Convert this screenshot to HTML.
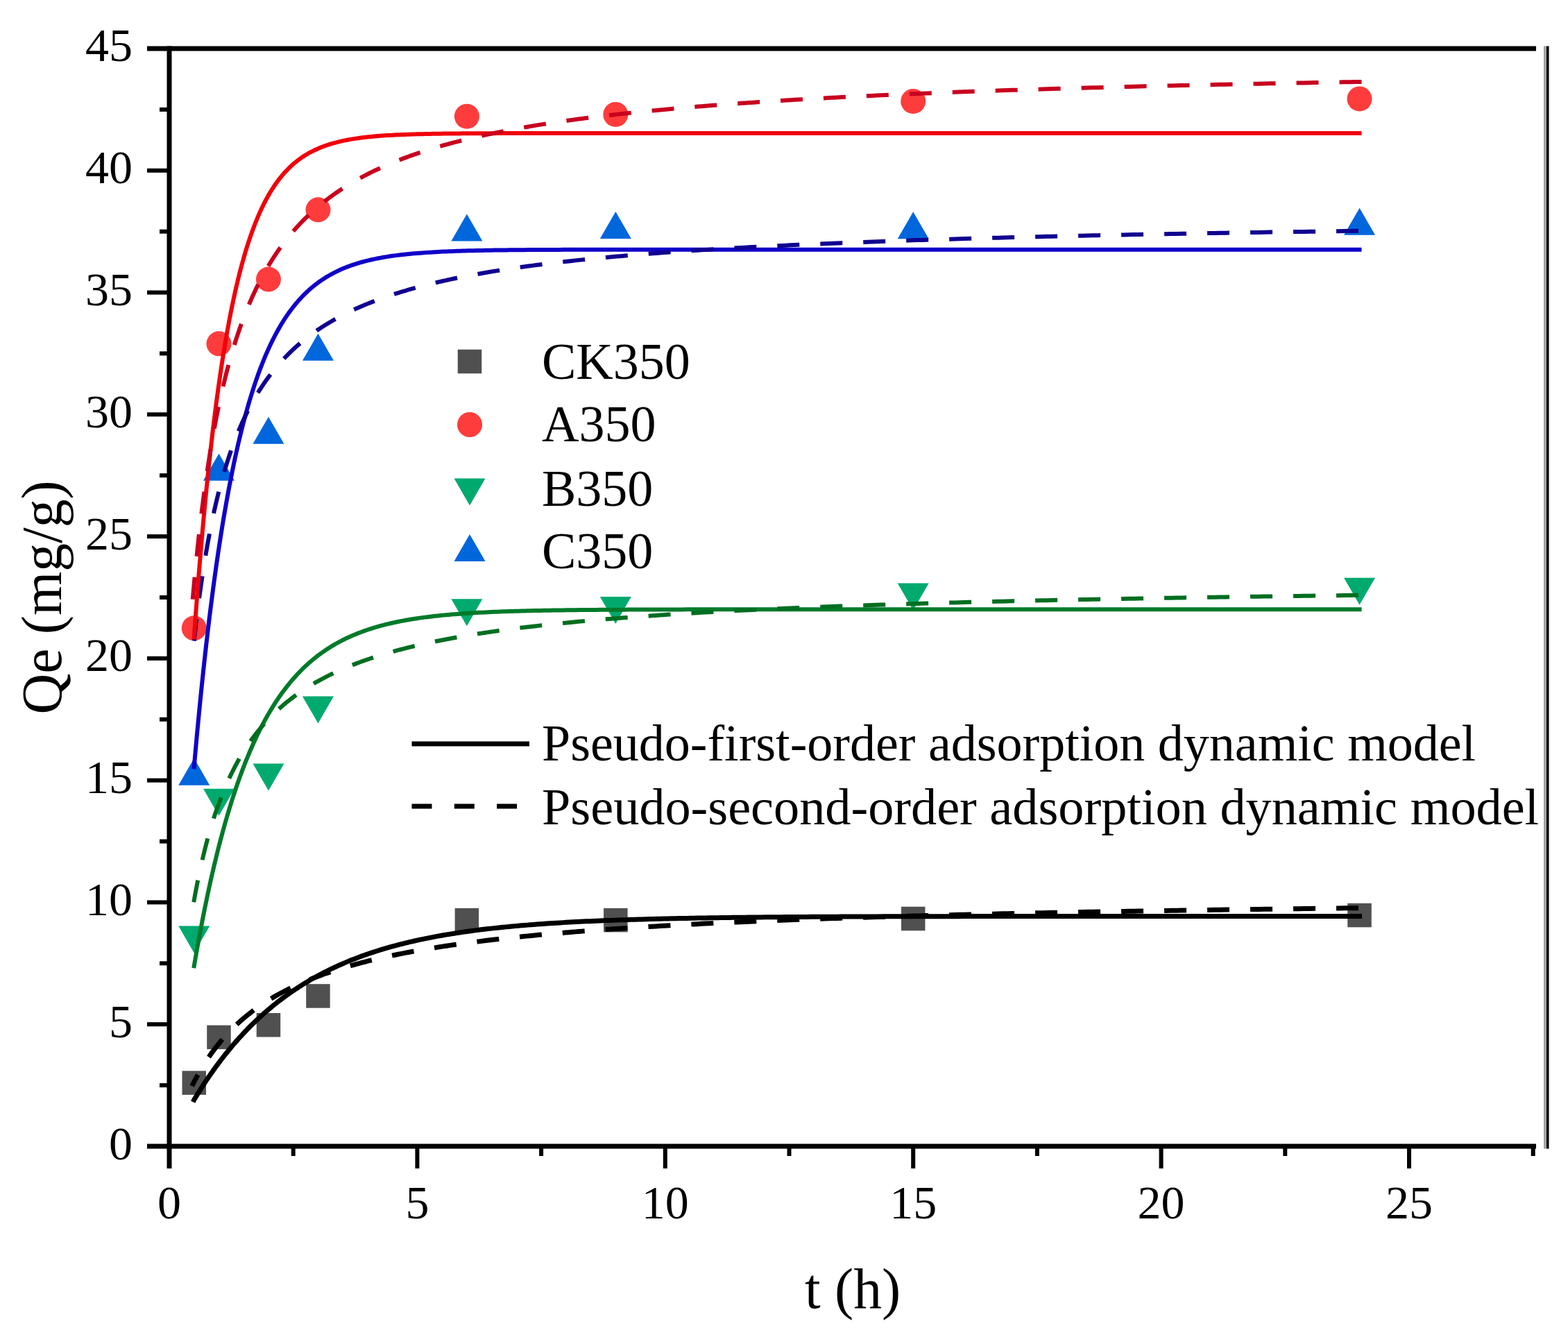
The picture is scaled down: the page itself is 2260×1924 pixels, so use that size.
<!DOCTYPE html><html><head><meta charset="utf-8"><title>Adsorption kinetics</title>
<style>html,body{margin:0;padding:0;background:#fff;}svg{display:block;}text{font-family:"Liberation Serif","Times New Roman",serif;fill:#000;}</style></head><body>
<svg width="2260" height="1924" viewBox="0 0 2260 1924">
<rect width="2260" height="1924" fill="#fff"/>
<rect x="262.49" y="1543.34" width="34.50" height="34.50" fill="#505050"/>
<rect x="298.23" y="1477.60" width="34.50" height="34.50" fill="#505050"/>
<rect x="369.71" y="1460.02" width="34.50" height="34.50" fill="#505050"/>
<rect x="441.19" y="1418.19" width="34.50" height="34.50" fill="#505050"/>
<rect x="655.63" y="1308.85" width="34.50" height="34.50" fill="#505050"/>
<rect x="870.07" y="1308.85" width="34.50" height="34.50" fill="#505050"/>
<rect x="1298.95" y="1306.74" width="34.50" height="34.50" fill="#505050"/>
<rect x="1942.27" y="1301.82" width="34.50" height="34.50" fill="#505050"/>
<circle cx="279.74" cy="905.29" r="18.00" fill="#ff3c3c"/>
<circle cx="315.48" cy="495.37" r="18.00" fill="#ff3c3c"/>
<circle cx="386.96" cy="402.56" r="18.00" fill="#ff3c3c"/>
<circle cx="458.44" cy="302.36" r="18.00" fill="#ff3c3c"/>
<circle cx="672.88" cy="167.71" r="18.00" fill="#ff3c3c"/>
<circle cx="887.32" cy="164.90" r="18.00" fill="#ff3c3c"/>
<circle cx="1316.20" cy="145.92" r="18.00" fill="#ff3c3c"/>
<circle cx="1959.52" cy="142.40" r="18.00" fill="#ff3c3c"/>
<path d="M257.24,1334.38 L302.24,1334.38 L279.74,1373.38 Z" fill="#00aa6e"/>
<path d="M292.98,1136.80 L337.98,1136.80 L315.48,1175.80 Z" fill="#00aa6e"/>
<path d="M364.46,1100.59 L409.46,1100.59 L386.96,1139.59 Z" fill="#00aa6e"/>
<path d="M435.94,1003.56 L480.94,1003.56 L458.44,1042.56 Z" fill="#00aa6e"/>
<path d="M650.38,863.29 L695.38,863.29 L672.88,902.29 Z" fill="#00aa6e"/>
<path d="M864.82,860.12 L909.82,860.12 L887.32,899.12 Z" fill="#00aa6e"/>
<path d="M1293.70,840.44 L1338.70,840.44 L1316.20,879.44 Z" fill="#00aa6e"/>
<path d="M1937.02,832.70 L1982.02,832.70 L1959.52,871.70 Z" fill="#00aa6e"/>
<path d="M279.74,1092.86 L302.24,1131.86 L257.24,1131.86 Z" fill="#0066dc"/>
<path d="M315.48,653.76 L337.98,692.76 L292.98,692.76 Z" fill="#0066dc"/>
<path d="M386.96,600.67 L409.46,639.67 L364.46,639.67 Z" fill="#0066dc"/>
<path d="M458.44,480.79 L480.94,519.79 L435.94,519.79 Z" fill="#0066dc"/>
<path d="M672.88,308.53 L695.38,347.53 L650.38,347.53 Z" fill="#0066dc"/>
<path d="M887.32,305.01 L909.82,344.01 L864.82,344.01 Z" fill="#0066dc"/>
<path d="M1316.20,305.36 L1338.70,344.36 L1293.70,344.36 Z" fill="#0066dc"/>
<path d="M1959.52,299.74 L1982.02,338.74 L1937.02,338.74 Z" fill="#0066dc"/>
<path d="M279.74,1585.05 L279.75,1585.03 L279.78,1584.98 L279.83,1584.89 L279.91,1584.77 L280.00,1584.61 L280.12,1584.42 L280.25,1584.19 L280.41,1583.93 L280.59,1583.63 L280.79,1583.30 L281.01,1582.94 L281.25,1582.54 L281.51,1582.10 L281.80,1581.64 L282.10,1581.13 L282.43,1580.60 L282.77,1580.03 L283.14,1579.43 L283.53,1578.80 L283.94,1578.13 L284.37,1577.43 L284.82,1576.70 L285.29,1575.94 L285.79,1575.14 L286.30,1574.32 L286.84,1573.46 L287.39,1572.57 L287.97,1571.66 L288.57,1570.71 L289.19,1569.73 L289.83,1568.73 L290.49,1567.69 L291.17,1566.63 L291.88,1565.54 L292.60,1564.42 L293.35,1563.28 L294.11,1562.10 L294.90,1560.91 L295.71,1559.68 L296.54,1558.43 L297.39,1557.16 L298.26,1555.86 L299.15,1554.54 L300.07,1553.19 L301.00,1551.83 L301.96,1550.43 L302.93,1549.02 L303.93,1547.59 L304.95,1546.13 L305.99,1544.66 L307.05,1543.16 L308.13,1541.65 L309.23,1540.11 L310.35,1538.56 L311.50,1536.99 L312.66,1535.40 L313.85,1533.80 L315.06,1532.18 L316.29,1530.55 L317.54,1528.90 L318.81,1527.23 L320.10,1525.55 L321.41,1523.86 L322.74,1522.16 L324.10,1520.44 L325.47,1518.71 L326.87,1516.97 L328.29,1515.22 L329.72,1513.46 L331.18,1511.69 L332.66,1509.91 L334.16,1508.12 L335.69,1506.33 L337.23,1504.53 L338.79,1502.72 L340.38,1500.90 L341.99,1499.08 L343.61,1497.26 L345.26,1495.43 L346.93,1493.59 L348.62,1491.76 L350.33,1489.92 L352.07,1488.07 L353.82,1486.23 L355.59,1484.38 L357.39,1482.54 L359.20,1480.69 L361.04,1478.84 L362.90,1476.99 L364.78,1475.15 L366.68,1473.30 L368.60,1471.46 L370.54,1469.62 L372.51,1467.78 L374.49,1465.95 L376.50,1464.12 L378.52,1462.29 L380.57,1460.47 L382.64,1458.65 L384.73,1456.84 L386.84,1455.04 L388.97,1453.24 L391.12,1451.45 L393.29,1449.66 L395.49,1447.88 L397.70,1446.12 L399.94,1444.35 L402.20,1442.60 L404.47,1440.86 L406.77,1439.12 L409.09,1437.40 L411.43,1435.68 L413.80,1433.97 L416.18,1432.28 L418.58,1430.59 L421.01,1428.92 L423.46,1427.26 L425.92,1425.61 L428.41,1423.97 L430.92,1422.34 L433.45,1420.73 L436.00,1419.12 L438.57,1417.53 L441.17,1415.96 L443.78,1414.39 L446.42,1412.84 L449.07,1411.31 L451.75,1409.78 L454.45,1408.27 L457.17,1406.78 L459.91,1405.30 L462.67,1403.83 L465.45,1402.38 L468.25,1400.94 L471.08,1399.52 L473.92,1398.11 L476.79,1396.72 L479.68,1395.34 L482.58,1393.98 L485.51,1392.63 L488.46,1391.30 L491.43,1389.98 L494.43,1388.68 L497.44,1387.39 L500.47,1386.12 L503.53,1384.86 L506.60,1383.62 L509.70,1382.40 L512.82,1381.19 L515.96,1380.00 L519.12,1378.82 L522.30,1377.66 L525.50,1376.52 L528.73,1375.39 L531.97,1374.27 L535.23,1373.17 L538.52,1372.09 L541.83,1371.02 L545.16,1369.97 L548.50,1368.93 L551.87,1367.91 L555.27,1366.90 L558.68,1365.91 L562.11,1364.94 L565.57,1363.98 L569.04,1363.03 L572.54,1362.10 L576.05,1361.18 L579.59,1360.28 L583.15,1359.40 L586.73,1358.53 L590.33,1357.67 L593.95,1356.83 L597.60,1356.00 L601.26,1355.18 L604.95,1354.38 L608.65,1353.60 L612.38,1352.82 L616.13,1352.07 L619.90,1351.32 L623.69,1350.59 L627.50,1349.87 L631.33,1349.17 L635.18,1348.48 L639.06,1347.80 L642.95,1347.13 L646.87,1346.48 L650.80,1345.84 L654.76,1345.21 L658.74,1344.59 L662.74,1343.99 L666.76,1343.40 L670.80,1342.82 L674.87,1342.25 L678.95,1341.69 L683.06,1341.15 L687.18,1340.62 L691.33,1340.09 L695.50,1339.58 L699.68,1339.08 L703.89,1338.59 L708.13,1338.11 L712.38,1337.64 L716.65,1337.18 L720.94,1336.73 L725.26,1336.29 L729.60,1335.86 L733.95,1335.44 L738.33,1335.03 L742.73,1334.63 L747.15,1334.24 L751.59,1333.86 L756.05,1333.48 L760.54,1333.12 L765.04,1332.76 L769.56,1332.41 L774.11,1332.07 L778.68,1331.74 L783.26,1331.41 L787.87,1331.10 L792.50,1330.79 L797.15,1330.49 L801.83,1330.19 L806.52,1329.91 L811.23,1329.63 L815.97,1329.36 L820.72,1329.09 L825.50,1328.83 L830.30,1328.58 L835.12,1328.33 L839.96,1328.09 L844.82,1327.86 L849.70,1327.63 L854.60,1327.41 L859.53,1327.20 L864.47,1326.99 L869.44,1326.78 L874.42,1326.58 L879.43,1326.39 L884.46,1326.20 L889.51,1326.02 L894.58,1325.84 L899.67,1325.67 L904.79,1325.50 L909.92,1325.34 L915.07,1325.18 L920.25,1325.03 L925.45,1324.88 L930.67,1324.73 L935.90,1324.59 L941.16,1324.45 L946.44,1324.32 L951.75,1324.19 L957.07,1324.06 L962.41,1323.94 L967.78,1323.82 L973.16,1323.70 L978.57,1323.59 L984.00,1323.48 L989.45,1323.38 L994.92,1323.28 L1000.41,1323.18 L1005.92,1323.08 L1011.45,1322.99 L1017.01,1322.90 L1022.58,1322.81 L1028.18,1322.73 L1033.79,1322.65 L1039.43,1322.57 L1045.09,1322.49 L1050.77,1322.42 L1056.47,1322.34 L1062.19,1322.27 L1067.93,1322.21 L1073.70,1322.14 L1079.48,1322.08 L1085.29,1322.02 L1091.12,1321.96 L1096.96,1321.90 L1102.83,1321.84 L1108.72,1321.79 L1114.63,1321.74 L1120.56,1321.69 L1126.52,1321.64 L1132.49,1321.59 L1138.49,1321.55 L1144.50,1321.50 L1150.54,1321.46 L1156.60,1321.42 L1162.67,1321.38 L1168.77,1321.34 L1174.89,1321.31 L1181.04,1321.27 L1187.20,1321.24 L1193.38,1321.20 L1199.59,1321.17 L1205.81,1321.14 L1212.06,1321.11 L1218.33,1321.08 L1224.62,1321.06 L1230.93,1321.03 L1237.26,1321.00 L1243.61,1320.98 L1249.98,1320.95 L1256.37,1320.93 L1262.79,1320.91 L1269.22,1320.89 L1275.68,1320.87 L1282.16,1320.85 L1288.66,1320.83 L1295.18,1320.81 L1301.72,1320.79 L1308.28,1320.78 L1314.86,1320.76 L1321.47,1320.74 L1328.09,1320.73 L1334.74,1320.71 L1341.40,1320.70 L1348.09,1320.69 L1354.80,1320.67 L1361.53,1320.66 L1368.28,1320.65 L1375.05,1320.64 L1381.84,1320.63 L1388.66,1320.62 L1395.49,1320.61 L1402.35,1320.60 L1409.22,1320.59 L1416.12,1320.58 L1423.04,1320.57 L1429.98,1320.56 L1436.94,1320.55 L1443.92,1320.54 L1450.92,1320.54 L1457.95,1320.53 L1464.99,1320.52 L1472.06,1320.52 L1479.14,1320.51 L1486.25,1320.50 L1493.38,1320.50 L1500.53,1320.49 L1507.70,1320.49 L1514.89,1320.48 L1522.11,1320.48 L1529.34,1320.47 L1536.59,1320.47 L1543.87,1320.46 L1551.17,1320.46 L1558.48,1320.46 L1565.82,1320.45 L1573.18,1320.45 L1580.56,1320.45 L1587.96,1320.44 L1595.39,1320.44 L1602.83,1320.44 L1610.29,1320.43 L1617.78,1320.43 L1625.29,1320.43 L1632.81,1320.43 L1640.36,1320.42 L1647.93,1320.42 L1655.52,1320.42 L1663.13,1320.42 L1670.77,1320.41 L1678.42,1320.41 L1686.09,1320.41 L1693.79,1320.41 L1701.51,1320.41 L1709.24,1320.41 L1717.00,1320.40 L1724.78,1320.40 L1732.58,1320.40 L1740.40,1320.40 L1748.25,1320.40 L1756.11,1320.40 L1763.99,1320.40 L1771.90,1320.40 L1779.83,1320.39 L1787.77,1320.39 L1795.74,1320.39 L1803.73,1320.39 L1811.74,1320.39 L1819.77,1320.39 L1827.83,1320.39 L1835.90,1320.39 L1843.99,1320.39 L1852.11,1320.39 L1860.25,1320.39 L1868.40,1320.39 L1876.58,1320.38 L1884.78,1320.38 L1893.00,1320.38 L1901.24,1320.38 L1909.50,1320.38 L1917.79,1320.38 L1926.09,1320.38 L1934.42,1320.38 L1942.76,1320.38 L1951.13,1320.38 L1959.52,1320.38" fill="none" stroke="#000000" stroke-width="7" stroke-linejoin="round" stroke-linecap="square"/>
<path d="M1962.52,1308.57 L1954.10,1308.66 L1945.70,1308.76 L1937.33,1308.86 L1928.97,1308.96 L1920.64,1309.06 L1912.33,1309.16 L1904.03,1309.26 L1895.76,1309.36 L1887.51,1309.46 L1879.28,1309.57 L1871.08,1309.67 L1862.89,1309.77 L1854.72,1309.88 L1846.58,1309.99 L1838.46,1310.09 L1830.35,1310.20 L1822.27,1310.31 L1814.21,1310.42 L1806.17,1310.53 L1798.16,1310.64 L1790.16,1310.75 L1782.18,1310.86 L1774.23,1310.97 L1766.30,1311.09 L1758.38,1311.20 L1750.49,1311.32 L1742.62,1311.43 L1734.77,1311.55 L1726.94,1311.67 L1719.14,1311.79 L1711.35,1311.90 L1703.58,1312.02 L1695.84,1312.15 L1688.12,1312.27 L1680.42,1312.39 L1672.73,1312.51 L1665.07,1312.64 L1657.44,1312.77 L1649.82,1312.89 L1642.22,1313.02 L1634.65,1313.15 L1627.09,1313.28 L1619.56,1313.41 L1612.05,1313.54 L1604.56,1313.67 L1597.09,1313.80 L1589.64,1313.94 L1582.21,1314.07 L1574.80,1314.21 L1567.42,1314.35 L1560.05,1314.48 L1552.71,1314.62 L1545.38,1314.76 L1538.08,1314.91 L1530.80,1315.05 L1523.54,1315.19 L1516.30,1315.34 L1509.09,1315.48 L1501.89,1315.63 L1494.72,1315.78 L1487.56,1315.93 L1480.43,1316.08 L1473.32,1316.23 L1466.23,1316.38 L1459.16,1316.53 L1452.11,1316.69 L1445.08,1316.84 L1438.07,1317.00 L1431.09,1317.16 L1424.12,1317.32 L1417.18,1317.48 L1410.26,1317.64 L1403.36,1317.81 L1396.48,1317.97 L1389.62,1318.14 L1382.78,1318.31 L1375.96,1318.48 L1369.17,1318.65 L1362.39,1318.82 L1355.64,1318.99 L1348.91,1319.16 L1342.20,1319.34 L1335.50,1319.52 L1328.84,1319.70 L1322.19,1319.88 L1315.56,1320.06 L1308.95,1320.24 L1302.37,1320.42 L1295.80,1320.61 L1289.26,1320.80 L1282.74,1320.99 L1276.24,1321.18 L1269.76,1321.37 L1263.30,1321.56 L1256.86,1321.76 L1250.45,1321.95 L1244.05,1322.15 L1237.68,1322.35 L1231.32,1322.55 L1224.99,1322.76 L1218.68,1322.96 L1212.39,1323.17 L1206.12,1323.38 L1199.87,1323.59 L1193.65,1323.80 L1187.44,1324.01 L1181.26,1324.23 L1175.09,1324.45 L1168.95,1324.67 L1162.83,1324.89 L1156.73,1325.11 L1150.65,1325.34 L1144.59,1325.56 L1138.55,1325.79 L1132.54,1326.02 L1126.54,1326.26 L1120.57,1326.49 L1114.61,1326.73 L1108.68,1326.97 L1102.77,1327.21 L1096.88,1327.45 L1091.01,1327.70 L1085.17,1327.94 L1079.34,1328.19 L1073.53,1328.45 L1067.75,1328.70 L1061.99,1328.96 L1056.24,1329.21 L1050.52,1329.48 L1044.82,1329.74 L1039.14,1330.00 L1033.49,1330.27 L1027.85,1330.54 L1022.23,1330.81 L1016.64,1331.09 L1011.07,1331.37 L1005.51,1331.65 L999.98,1331.93 L994.47,1332.22 L988.98,1332.50 L983.51,1332.79 L978.07,1333.09 L972.64,1333.38 L967.24,1333.68 L961.85,1333.98 L956.49,1334.29 L951.15,1334.59 L945.83,1334.90 L940.53,1335.21 L935.25,1335.53 L929.99,1335.85 L924.75,1336.17 L919.54,1336.49 L914.34,1336.82 L909.17,1337.15 L904.02,1337.48 L898.89,1337.82 L893.78,1338.16 L888.69,1338.50 L883.62,1338.85 L878.57,1339.20 L873.55,1339.55 L868.54,1339.91 L863.56,1340.27 L858.60,1340.63 L853.66,1341.00 L848.74,1341.37 L843.84,1341.74 L838.96,1342.12 L834.10,1342.50 L829.26,1342.88 L824.45,1343.27 L819.66,1343.66 L814.88,1344.06 L810.13,1344.46 L805.40,1344.86 L800.69,1345.27 L796.00,1345.68 L791.33,1346.09 L786.69,1346.51 L782.06,1346.94 L777.46,1347.36 L772.88,1347.80 L768.31,1348.23 L763.77,1348.67 L759.25,1349.12 L754.75,1349.57 L750.28,1350.02 L745.82,1350.48 L741.38,1350.94 L736.97,1351.41 L732.57,1351.88 L728.20,1352.36 L723.85,1352.84 L719.52,1353.33 L715.21,1353.82 L710.92,1354.31 L706.66,1354.81 L702.41,1355.32 L698.19,1355.83 L693.98,1356.35 L689.80,1356.87 L685.64,1357.40 L681.50,1357.93 L677.38,1358.47 L673.28,1359.01 L669.20,1359.56 L665.14,1360.12 L661.11,1360.68 L657.09,1361.24 L653.10,1361.81 L649.13,1362.39 L645.18,1362.98 L641.25,1363.57 L637.34,1364.16 L633.45,1364.76 L629.58,1365.37 L625.74,1365.99 L621.91,1366.61 L618.11,1367.23 L614.33,1367.87 L610.57,1368.51 L606.83,1369.15 L603.11,1369.81 L599.41,1370.47 L595.73,1371.14 L592.08,1371.81 L588.44,1372.49 L584.83,1373.18 L581.23,1373.87 L577.66,1374.58 L574.11,1375.29 L570.58,1376.00 L567.07,1376.73 L563.59,1377.46 L560.12,1378.20 L556.67,1378.95 L553.25,1379.70 L549.85,1380.47 L546.46,1381.24 L543.10,1382.02 L539.76,1382.80 L536.44,1383.60 L533.15,1384.40 L529.87,1385.22 L526.61,1386.04 L523.38,1386.86 L520.17,1387.70 L516.97,1388.55 L513.80,1389.40 L510.65,1390.27 L507.52,1391.14 L504.42,1392.02 L501.33,1392.91 L498.26,1393.81 L495.22,1394.72 L492.19,1395.63 L489.19,1396.56 L486.21,1397.50 L483.25,1398.44 L480.31,1399.40 L477.39,1400.36 L474.49,1401.34 L471.62,1402.32 L468.76,1403.32 L465.93,1404.32 L463.11,1405.33 L460.32,1406.36 L457.55,1407.39 L454.80,1408.44 L452.07,1409.49 L449.36,1410.55 L446.68,1411.63 L444.01,1412.71 L441.37,1413.81 L438.74,1414.92 L436.14,1416.03 L433.56,1417.16 L431.00,1418.30 L428.46,1419.44 L425.94,1420.60 L423.45,1421.77 L420.97,1422.95 L418.51,1424.14 L416.08,1425.34 L413.67,1426.55 L411.28,1427.77 L408.91,1429.01 L406.56,1430.25 L404.23,1431.50 L401.92,1432.77 L399.63,1434.04 L397.37,1435.33 L395.12,1436.63 L392.90,1437.93 L390.70,1439.25 L388.52,1440.58 L386.36,1441.91 L384.22,1443.26 L382.10,1444.62 L380.00,1445.99 L377.93,1447.37 L375.87,1448.75 L373.84,1450.15 L371.83,1451.56 L369.84,1452.98 L367.87,1454.40 L365.92,1455.84 L363.99,1457.28 L362.08,1458.73 L360.20,1460.20 L358.33,1461.67 L356.49,1463.14 L354.67,1464.63 L352.86,1466.13 L351.08,1467.63 L349.32,1469.14 L347.58,1470.65 L345.87,1472.17 L344.17,1473.70 L342.50,1475.24 L340.84,1476.78 L339.21,1478.33 L337.60,1479.88 L336.01,1481.43 L334.44,1482.99 L332.89,1484.56 L331.36,1486.12 L329.85,1487.70 L328.37,1489.27 L326.90,1490.84 L325.46,1492.42 L324.04,1494.00 L322.64,1495.58 L321.26,1497.16 L319.90,1498.73 L318.56,1500.31 L317.24,1501.89 L315.94,1503.46 L314.67,1505.03 L313.42,1506.60 L312.18,1508.16 L310.97,1509.72 L309.78,1511.27 L308.61,1512.82 L307.46,1514.35 L306.34,1515.89 L305.23,1517.41 L304.14,1518.92 L303.08,1520.43 L302.04,1521.92 L301.02,1523.40 L300.01,1524.87 L299.03,1526.33 L298.08,1527.77 L297.14,1529.20 L296.22,1530.61 L295.33,1532.01 L294.45,1533.39 L293.60,1534.75 L292.77,1536.09 L291.95,1537.41 L291.16,1538.71 L290.39,1539.99 L289.65,1541.25 L288.92,1542.48 L288.21,1543.69 L287.53,1544.88 L286.87,1546.04 L286.22,1547.17 L285.60,1548.27 L285.00,1549.35 L284.42,1550.39 L283.86,1551.41 L283.33,1552.39 L282.81,1553.35 L282.31,1554.27 L281.84,1555.16 L281.39,1556.01 L280.95,1556.83 L280.54,1557.61 L280.15,1558.36 L279.78,1559.07 L279.44,1559.75 L279.11,1560.38 L278.81,1560.98 L278.52,1561.54 L278.26,1562.06 L278.01,1562.54 L277.79,1562.98 L277.59,1563.38 L277.41,1563.74 L277.26,1564.06 L277.12,1564.33 L277.00,1564.56 L276.91,1564.75 L276.83,1564.90 L276.78,1565.01 L276.75,1565.07 L276.74,1565.10" fill="none" stroke="#000000" stroke-width="7" stroke-dasharray="32 30" stroke-dashoffset="57.5"/>
<path d="M279.74,1392.25 L279.75,1392.19 L279.78,1392.00 L279.83,1391.70 L279.91,1391.26 L280.00,1390.71 L280.12,1390.03 L280.25,1389.23 L280.41,1388.31 L280.59,1387.27 L280.79,1386.11 L281.01,1384.83 L281.25,1383.44 L281.51,1381.92 L281.80,1380.29 L282.10,1378.54 L282.43,1376.68 L282.77,1374.71 L283.14,1372.63 L283.53,1370.43 L283.94,1368.13 L284.37,1365.73 L284.82,1363.21 L285.29,1360.60 L285.79,1357.88 L286.30,1355.07 L286.84,1352.15 L287.39,1349.15 L287.97,1346.04 L288.57,1342.85 L289.19,1339.57 L289.83,1336.20 L290.49,1332.75 L291.17,1329.21 L291.88,1325.60 L292.60,1321.90 L293.35,1318.13 L294.11,1314.29 L294.90,1310.38 L295.71,1306.40 L296.54,1302.36 L297.39,1298.25 L298.26,1294.08 L299.15,1289.86 L300.07,1285.58 L301.00,1281.24 L301.96,1276.86 L302.93,1272.43 L303.93,1267.96 L304.95,1263.44 L305.99,1258.89 L307.05,1254.30 L308.13,1249.67 L309.23,1245.01 L310.35,1240.33 L311.50,1235.62 L312.66,1230.88 L313.85,1226.13 L315.06,1221.35 L316.29,1216.56 L317.54,1211.76 L318.81,1206.95 L320.10,1202.12 L321.41,1197.30 L322.74,1192.46 L324.10,1187.63 L325.47,1182.80 L326.87,1177.97 L328.29,1173.15 L329.72,1168.33 L331.18,1163.53 L332.66,1158.74 L334.16,1153.96 L335.69,1149.20 L337.23,1144.45 L338.79,1139.73 L340.38,1135.03 L341.99,1130.35 L343.61,1125.70 L345.26,1121.07 L346.93,1116.48 L348.62,1111.91 L350.33,1107.38 L352.07,1102.88 L353.82,1098.42 L355.59,1094.00 L357.39,1089.61 L359.20,1085.26 L361.04,1080.95 L362.90,1076.69 L364.78,1072.46 L366.68,1068.28 L368.60,1064.15 L370.54,1060.06 L372.51,1056.02 L374.49,1052.03 L376.50,1048.09 L378.52,1044.20 L380.57,1040.35 L382.64,1036.56 L384.73,1032.82 L386.84,1029.13 L388.97,1025.49 L391.12,1021.91 L393.29,1018.38 L395.49,1014.91 L397.70,1011.48 L399.94,1008.12 L402.20,1004.80 L404.47,1001.55 L406.77,998.34 L409.09,995.20 L411.43,992.10 L413.80,989.07 L416.18,986.08 L418.58,983.16 L421.01,980.28 L423.46,977.47 L425.92,974.70 L428.41,972.00 L430.92,969.34 L433.45,966.74 L436.00,964.19 L438.57,961.70 L441.17,959.26 L443.78,956.87 L446.42,954.53 L449.07,952.25 L451.75,950.01 L454.45,947.83 L457.17,945.70 L459.91,943.62 L462.67,941.58 L465.45,939.60 L468.25,937.66 L471.08,935.77 L473.92,933.92 L476.79,932.13 L479.68,930.37 L482.58,928.67 L485.51,927.00 L488.46,925.38 L491.43,923.81 L494.43,922.27 L497.44,920.78 L500.47,919.33 L503.53,917.91 L506.60,916.54 L509.70,915.21 L512.82,913.91 L515.96,912.65 L519.12,911.43 L522.30,910.24 L525.50,909.09 L528.73,907.97 L531.97,906.89 L535.23,905.83 L538.52,904.82 L541.83,903.83 L545.16,902.87 L548.50,901.94 L551.87,901.05 L555.27,900.18 L558.68,899.34 L562.11,898.52 L565.57,897.74 L569.04,896.97 L572.54,896.24 L576.05,895.53 L579.59,894.84 L583.15,894.18 L586.73,893.54 L590.33,892.92 L593.95,892.32 L597.60,891.75 L601.26,891.19 L604.95,890.65 L608.65,890.14 L612.38,889.64 L616.13,889.16 L619.90,888.70 L623.69,888.25 L627.50,887.82 L631.33,887.41 L635.18,887.02 L639.06,886.63 L642.95,886.27 L646.87,885.91 L650.80,885.58 L654.76,885.25 L658.74,884.94 L662.74,884.64 L666.76,884.35 L670.80,884.07 L674.87,883.80 L678.95,883.55 L683.06,883.30 L687.18,883.07 L691.33,882.84 L695.50,882.63 L699.68,882.42 L703.89,882.22 L708.13,882.04 L712.38,881.85 L716.65,881.68 L720.94,881.51 L725.26,881.36 L729.60,881.20 L733.95,881.06 L738.33,880.92 L742.73,880.79 L747.15,880.66 L751.59,880.54 L756.05,880.42 L760.54,880.31 L765.04,880.21 L769.56,880.11 L774.11,880.01 L778.68,879.92 L783.26,879.83 L787.87,879.75 L792.50,879.67 L797.15,879.60 L801.83,879.52 L806.52,879.46 L811.23,879.39 L815.97,879.33 L820.72,879.27 L825.50,879.21 L830.30,879.16 L835.12,879.11 L839.96,879.06 L844.82,879.02 L849.70,878.97 L854.60,878.93 L859.53,878.89 L864.47,878.85 L869.44,878.82 L874.42,878.79 L879.43,878.75 L884.46,878.72 L889.51,878.70 L894.58,878.67 L899.67,878.64 L904.79,878.62 L909.92,878.60 L915.07,878.57 L920.25,878.55 L925.45,878.53 L930.67,878.52 L935.90,878.50 L941.16,878.48 L946.44,878.47 L951.75,878.45 L957.07,878.44 L962.41,878.42 L967.78,878.41 L973.16,878.40 L978.57,878.39 L984.00,878.38 L989.45,878.37 L994.92,878.36 L1000.41,878.35 L1005.92,878.34 L1011.45,878.34 L1017.01,878.33 L1022.58,878.32 L1028.18,878.31 L1033.79,878.31 L1039.43,878.30 L1045.09,878.30 L1050.77,878.29 L1056.47,878.29 L1062.19,878.28 L1067.93,878.28 L1073.70,878.27 L1079.48,878.27 L1085.29,878.27 L1091.12,878.26 L1096.96,878.26 L1102.83,878.26 L1108.72,878.26 L1114.63,878.25 L1120.56,878.25 L1126.52,878.25 L1132.49,878.25 L1138.49,878.24 L1144.50,878.24 L1150.54,878.24 L1156.60,878.24 L1162.67,878.24 L1168.77,878.24 L1174.89,878.23 L1181.04,878.23 L1187.20,878.23 L1193.38,878.23 L1199.59,878.23 L1205.81,878.23 L1212.06,878.23 L1218.33,878.23 L1224.62,878.23 L1230.93,878.23 L1237.26,878.23 L1243.61,878.22 L1249.98,878.22 L1256.37,878.22 L1262.79,878.22 L1269.22,878.22 L1275.68,878.22 L1282.16,878.22 L1288.66,878.22 L1295.18,878.22 L1301.72,878.22 L1308.28,878.22 L1314.86,878.22 L1321.47,878.22 L1328.09,878.22 L1334.74,878.22 L1341.40,878.22 L1348.09,878.22 L1354.80,878.22 L1361.53,878.22 L1368.28,878.22 L1375.05,878.22 L1381.84,878.22 L1388.66,878.22 L1395.49,878.22 L1402.35,878.22 L1409.22,878.22 L1416.12,878.22 L1423.04,878.22 L1429.98,878.22 L1436.94,878.22 L1443.92,878.22 L1450.92,878.22 L1457.95,878.22 L1464.99,878.22 L1472.06,878.22 L1479.14,878.22 L1486.25,878.22 L1493.38,878.22 L1500.53,878.22 L1507.70,878.22 L1514.89,878.22 L1522.11,878.22 L1529.34,878.22 L1536.59,878.22 L1543.87,878.22 L1551.17,878.22 L1558.48,878.22 L1565.82,878.22 L1573.18,878.22 L1580.56,878.22 L1587.96,878.22 L1595.39,878.22 L1602.83,878.22 L1610.29,878.22 L1617.78,878.22 L1625.29,878.22 L1632.81,878.22 L1640.36,878.22 L1647.93,878.22 L1655.52,878.22 L1663.13,878.22 L1670.77,878.22 L1678.42,878.22 L1686.09,878.22 L1693.79,878.22 L1701.51,878.22 L1709.24,878.22 L1717.00,878.22 L1724.78,878.22 L1732.58,878.22 L1740.40,878.22 L1748.25,878.22 L1756.11,878.22 L1763.99,878.22 L1771.90,878.22 L1779.83,878.22 L1787.77,878.22 L1795.74,878.22 L1803.73,878.22 L1811.74,878.22 L1819.77,878.22 L1827.83,878.22 L1835.90,878.22 L1843.99,878.22 L1852.11,878.22 L1860.25,878.22 L1868.40,878.22 L1876.58,878.22 L1884.78,878.22 L1893.00,878.22 L1901.24,878.22 L1909.50,878.22 L1917.79,878.22 L1926.09,878.22 L1934.42,878.22 L1942.76,878.22 L1951.13,878.22 L1959.52,878.22" fill="none" stroke="#007a2a" stroke-width="6" stroke-linejoin="round" stroke-linecap="square"/>
<path d="M1962.52,857.72 L1954.10,857.83 L1945.70,857.93 L1937.33,858.03 L1928.97,858.14 L1920.64,858.25 L1912.33,858.35 L1904.03,858.46 L1895.76,858.57 L1887.51,858.68 L1879.28,858.79 L1871.08,858.90 L1862.89,859.01 L1854.72,859.12 L1846.58,859.23 L1838.46,859.35 L1830.35,859.46 L1822.27,859.58 L1814.21,859.70 L1806.17,859.81 L1798.16,859.93 L1790.16,860.05 L1782.18,860.17 L1774.23,860.29 L1766.30,860.41 L1758.38,860.53 L1750.49,860.66 L1742.62,860.78 L1734.77,860.91 L1726.94,861.03 L1719.14,861.16 L1711.35,861.29 L1703.58,861.42 L1695.84,861.55 L1688.12,861.68 L1680.42,861.81 L1672.73,861.95 L1665.07,862.08 L1657.44,862.21 L1649.82,862.35 L1642.22,862.49 L1634.65,862.63 L1627.09,862.77 L1619.56,862.91 L1612.05,863.05 L1604.56,863.19 L1597.09,863.34 L1589.64,863.48 L1582.21,863.63 L1574.80,863.77 L1567.42,863.92 L1560.05,864.07 L1552.71,864.22 L1545.38,864.37 L1538.08,864.53 L1530.80,864.68 L1523.54,864.84 L1516.30,865.00 L1509.09,865.15 L1501.89,865.31 L1494.72,865.47 L1487.56,865.64 L1480.43,865.80 L1473.32,865.96 L1466.23,866.13 L1459.16,866.30 L1452.11,866.47 L1445.08,866.64 L1438.07,866.81 L1431.09,866.98 L1424.12,867.16 L1417.18,867.33 L1410.26,867.51 L1403.36,867.69 L1396.48,867.87 L1389.62,868.05 L1382.78,868.24 L1375.96,868.42 L1369.17,868.61 L1362.39,868.80 L1355.64,868.99 L1348.91,869.18 L1342.20,869.37 L1335.50,869.56 L1328.84,869.76 L1322.19,869.96 L1315.56,870.16 L1308.95,870.36 L1302.37,870.56 L1295.80,870.77 L1289.26,870.98 L1282.74,871.19 L1276.24,871.40 L1269.76,871.61 L1263.30,871.82 L1256.86,872.04 L1250.45,872.26 L1244.05,872.48 L1237.68,872.70 L1231.32,872.92 L1224.99,873.15 L1218.68,873.38 L1212.39,873.61 L1206.12,873.84 L1199.87,874.08 L1193.65,874.31 L1187.44,874.55 L1181.26,874.79 L1175.09,875.03 L1168.95,875.28 L1162.83,875.53 L1156.73,875.78 L1150.65,876.03 L1144.59,876.28 L1138.55,876.54 L1132.54,876.80 L1126.54,877.06 L1120.57,877.33 L1114.61,877.59 L1108.68,877.86 L1102.77,878.13 L1096.88,878.41 L1091.01,878.69 L1085.17,878.97 L1079.34,879.25 L1073.53,879.53 L1067.75,879.82 L1061.99,880.11 L1056.24,880.40 L1050.52,880.70 L1044.82,881.00 L1039.14,881.30 L1033.49,881.61 L1027.85,881.91 L1022.23,882.23 L1016.64,882.54 L1011.07,882.86 L1005.51,883.18 L999.98,883.50 L994.47,883.83 L988.98,884.16 L983.51,884.49 L978.07,884.83 L972.64,885.17 L967.24,885.51 L961.85,885.86 L956.49,886.21 L951.15,886.56 L945.83,886.92 L940.53,887.28 L935.25,887.65 L929.99,888.02 L924.75,888.39 L919.54,888.77 L914.34,889.15 L909.17,889.53 L904.02,889.92 L898.89,890.31 L893.78,890.71 L888.69,891.11 L883.62,891.52 L878.57,891.93 L873.55,892.34 L868.54,892.76 L863.56,893.18 L858.60,893.61 L853.66,894.04 L848.74,894.48 L843.84,894.92 L838.96,895.37 L834.10,895.82 L829.26,896.27 L824.45,896.74 L819.66,897.20 L814.88,897.67 L810.13,898.15 L805.40,898.63 L800.69,899.12 L796.00,899.61 L791.33,900.11 L786.69,900.61 L782.06,901.12 L777.46,901.64 L772.88,902.16 L768.31,902.69 L763.77,903.22 L759.25,903.76 L754.75,904.30 L750.28,904.85 L745.82,905.41 L741.38,905.98 L736.97,906.55 L732.57,907.12 L728.20,907.71 L723.85,908.30 L719.52,908.90 L715.21,909.50 L710.92,910.11 L706.66,910.73 L702.41,911.36 L698.19,911.99 L693.98,912.64 L689.80,913.28 L685.64,913.94 L681.50,914.61 L677.38,915.28 L673.28,915.96 L669.20,916.65 L665.14,917.35 L661.11,918.05 L657.09,918.77 L653.10,919.49 L649.13,920.22 L645.18,920.96 L641.25,921.71 L637.34,922.47 L633.45,923.24 L629.58,924.02 L625.74,924.81 L621.91,925.61 L618.11,926.42 L614.33,927.24 L610.57,928.06 L606.83,928.90 L603.11,929.75 L599.41,930.61 L595.73,931.49 L592.08,932.37 L588.44,933.26 L584.83,934.17 L581.23,935.08 L577.66,936.01 L574.11,936.95 L570.58,937.91 L567.07,938.87 L563.59,939.85 L560.12,940.84 L556.67,941.84 L553.25,942.86 L549.85,943.89 L546.46,944.93 L543.10,945.99 L539.76,947.06 L536.44,948.15 L533.15,949.25 L529.87,950.36 L526.61,951.49 L523.38,952.63 L520.17,953.79 L516.97,954.97 L513.80,956.16 L510.65,957.36 L507.52,958.59 L504.42,959.83 L501.33,961.08 L498.26,962.35 L495.22,963.64 L492.19,964.95 L489.19,966.28 L486.21,967.62 L483.25,968.98 L480.31,970.36 L477.39,971.76 L474.49,973.18 L471.62,974.61 L468.76,976.07 L465.93,977.55 L463.11,979.04 L460.32,980.56 L457.55,982.10 L454.80,983.66 L452.07,985.24 L449.36,986.84 L446.68,988.46 L444.01,990.11 L441.37,991.78 L438.74,993.47 L436.14,995.19 L433.56,996.92 L431.00,998.69 L428.46,1000.47 L425.94,1002.28 L423.45,1004.12 L420.97,1005.98 L418.51,1007.86 L416.08,1009.77 L413.67,1011.71 L411.28,1013.67 L408.91,1015.66 L406.56,1017.68 L404.23,1019.72 L401.92,1021.80 L399.63,1023.89 L397.37,1026.02 L395.12,1028.18 L392.90,1030.36 L390.70,1032.57 L388.52,1034.81 L386.36,1037.09 L384.22,1039.39 L382.10,1041.72 L380.00,1044.08 L377.93,1046.47 L375.87,1048.89 L373.84,1051.34 L371.83,1053.83 L369.84,1056.34 L367.87,1058.89 L365.92,1061.46 L363.99,1064.07 L362.08,1066.71 L360.20,1069.38 L358.33,1072.09 L356.49,1074.82 L354.67,1077.59 L352.86,1080.39 L351.08,1083.22 L349.32,1086.08 L347.58,1088.97 L345.87,1091.90 L344.17,1094.86 L342.50,1097.84 L340.84,1100.86 L339.21,1103.91 L337.60,1106.99 L336.01,1110.10 L334.44,1113.24 L332.89,1116.41 L331.36,1119.61 L329.85,1122.84 L328.37,1126.09 L326.90,1129.37 L325.46,1132.68 L324.04,1136.01 L322.64,1139.37 L321.26,1142.75 L319.90,1146.15 L318.56,1149.58 L317.24,1153.02 L315.94,1156.49 L314.67,1159.97 L313.42,1163.48 L312.18,1166.99 L310.97,1170.53 L309.78,1174.07 L308.61,1177.63 L307.46,1181.19 L306.34,1184.76 L305.23,1188.34 L304.14,1191.93 L303.08,1195.51 L302.04,1199.10 L301.02,1202.68 L300.01,1206.26 L299.03,1209.83 L298.08,1213.39 L297.14,1216.94 L296.22,1220.47 L295.33,1223.99 L294.45,1227.49 L293.60,1230.96 L292.77,1234.41 L291.95,1237.83 L291.16,1241.22 L290.39,1244.57 L289.65,1247.89 L288.92,1251.16 L288.21,1254.39 L287.53,1257.57 L286.87,1260.70 L286.22,1263.78 L285.60,1266.79 L285.00,1269.75 L284.42,1272.64 L283.86,1275.46 L283.33,1278.21 L282.81,1280.89 L282.31,1283.48 L281.84,1286.00 L281.39,1288.43 L280.95,1290.77 L280.54,1293.02 L280.15,1295.17 L279.78,1297.23 L279.44,1299.18 L279.11,1301.04 L278.81,1302.78 L278.52,1304.42 L278.26,1305.95 L278.01,1307.36 L277.79,1308.66 L277.59,1309.84 L277.41,1310.90 L277.26,1311.84 L277.12,1312.66 L277.00,1313.36 L276.91,1313.93 L276.83,1314.37 L276.78,1314.69 L276.75,1314.88 L276.74,1314.94" fill="none" stroke="#006e20" stroke-width="6" stroke-dasharray="32 30" stroke-dashoffset="57.5"/>
<path d="M279.74,1105.28 L279.75,1105.16 L279.78,1104.80 L279.83,1104.19 L279.91,1103.35 L280.00,1102.27 L280.12,1100.95 L280.25,1099.40 L280.41,1097.61 L280.59,1095.58 L280.79,1093.33 L281.01,1090.84 L281.25,1088.13 L281.51,1085.19 L281.80,1082.04 L282.10,1078.66 L282.43,1075.07 L282.77,1071.26 L283.14,1067.25 L283.53,1063.03 L283.94,1058.62 L284.37,1054.00 L284.82,1049.19 L285.29,1044.20 L285.79,1039.02 L286.30,1033.66 L286.84,1028.13 L287.39,1022.43 L287.97,1016.57 L288.57,1010.55 L289.19,1004.37 L289.83,998.05 L290.49,991.59 L291.17,984.99 L291.88,978.25 L292.60,971.40 L293.35,964.42 L294.11,957.33 L294.90,950.13 L295.71,942.83 L296.54,935.43 L297.39,927.95 L298.26,920.38 L299.15,912.73 L300.07,905.01 L301.00,897.23 L301.96,889.38 L302.93,881.48 L303.93,873.53 L304.95,865.54 L305.99,857.52 L307.05,849.46 L308.13,841.37 L309.23,833.27 L310.35,825.15 L311.50,817.03 L312.66,808.90 L313.85,800.77 L315.06,792.65 L316.29,784.55 L317.54,776.45 L318.81,768.39 L320.10,760.34 L321.41,752.33 L322.74,744.36 L324.10,736.42 L325.47,728.53 L326.87,720.69 L328.29,712.90 L329.72,705.17 L331.18,697.50 L332.66,689.89 L334.16,682.35 L335.69,674.88 L337.23,667.48 L338.79,660.16 L340.38,652.91 L341.99,645.75 L343.61,638.68 L345.26,631.69 L346.93,624.79 L348.62,617.98 L350.33,611.27 L352.07,604.65 L353.82,598.13 L355.59,591.71 L357.39,585.38 L359.20,579.16 L361.04,573.04 L362.90,567.03 L364.78,561.12 L366.68,555.31 L368.60,549.61 L370.54,544.02 L372.51,538.53 L374.49,533.15 L376.50,527.88 L378.52,522.72 L380.57,517.66 L382.64,512.71 L384.73,507.87 L386.84,503.13 L388.97,498.50 L391.12,493.98 L393.29,489.56 L395.49,485.25 L397.70,481.04 L399.94,476.94 L402.20,472.93 L404.47,469.03 L406.77,465.23 L409.09,461.52 L411.43,457.92 L413.80,454.41 L416.18,451.00 L418.58,447.68 L421.01,444.46 L423.46,441.33 L425.92,438.28 L428.41,435.33 L430.92,432.46 L433.45,429.68 L436.00,426.99 L438.57,424.38 L441.17,421.84 L443.78,419.39 L446.42,417.02 L449.07,414.72 L451.75,412.50 L454.45,410.35 L457.17,408.27 L459.91,406.27 L462.67,404.33 L465.45,402.46 L468.25,400.65 L471.08,398.91 L473.92,397.23 L476.79,395.61 L479.68,394.04 L482.58,392.54 L485.51,391.09 L488.46,389.69 L491.43,388.35 L494.43,387.06 L497.44,385.82 L500.47,384.63 L503.53,383.48 L506.60,382.38 L509.70,381.32 L512.82,380.31 L515.96,379.33 L519.12,378.40 L522.30,377.51 L525.50,376.65 L528.73,375.83 L531.97,375.04 L535.23,374.29 L538.52,373.56 L541.83,372.88 L545.16,372.22 L548.50,371.59 L551.87,370.98 L555.27,370.41 L558.68,369.86 L562.11,369.33 L565.57,368.83 L569.04,368.36 L572.54,367.90 L576.05,367.47 L579.59,367.05 L583.15,366.66 L586.73,366.28 L590.33,365.93 L593.95,365.59 L597.60,365.27 L601.26,364.96 L604.95,364.67 L608.65,364.39 L612.38,364.13 L616.13,363.88 L619.90,363.64 L623.69,363.41 L627.50,363.20 L631.33,363.00 L635.18,362.81 L639.06,362.62 L642.95,362.45 L646.87,362.29 L650.80,362.13 L654.76,361.99 L658.74,361.85 L662.74,361.72 L666.76,361.60 L670.80,361.48 L674.87,361.37 L678.95,361.27 L683.06,361.17 L687.18,361.08 L691.33,360.99 L695.50,360.91 L699.68,360.83 L703.89,360.76 L708.13,360.69 L712.38,360.62 L716.65,360.56 L720.94,360.50 L725.26,360.45 L729.60,360.40 L733.95,360.35 L738.33,360.31 L742.73,360.27 L747.15,360.23 L751.59,360.19 L756.05,360.15 L760.54,360.12 L765.04,360.09 L769.56,360.06 L774.11,360.04 L778.68,360.01 L783.26,359.99 L787.87,359.97 L792.50,359.94 L797.15,359.93 L801.83,359.91 L806.52,359.89 L811.23,359.87 L815.97,359.86 L820.72,359.85 L825.50,359.83 L830.30,359.82 L835.12,359.81 L839.96,359.80 L844.82,359.79 L849.70,359.78 L854.60,359.77 L859.53,359.76 L864.47,359.76 L869.44,359.75 L874.42,359.74 L879.43,359.74 L884.46,359.73 L889.51,359.73 L894.58,359.72 L899.67,359.72 L904.79,359.71 L909.92,359.71 L915.07,359.71 L920.25,359.70 L925.45,359.70 L930.67,359.70 L935.90,359.70 L941.16,359.69 L946.44,359.69 L951.75,359.69 L957.07,359.69 L962.41,359.69 L967.78,359.68 L973.16,359.68 L978.57,359.68 L984.00,359.68 L989.45,359.68 L994.92,359.68 L1000.41,359.68 L1005.92,359.68 L1011.45,359.68 L1017.01,359.67 L1022.58,359.67 L1028.18,359.67 L1033.79,359.67 L1039.43,359.67 L1045.09,359.67 L1050.77,359.67 L1056.47,359.67 L1062.19,359.67 L1067.93,359.67 L1073.70,359.67 L1079.48,359.67 L1085.29,359.67 L1091.12,359.67 L1096.96,359.67 L1102.83,359.67 L1108.72,359.67 L1114.63,359.67 L1120.56,359.67 L1126.52,359.67 L1132.49,359.67 L1138.49,359.67 L1144.50,359.67 L1150.54,359.67 L1156.60,359.67 L1162.67,359.67 L1168.77,359.67 L1174.89,359.67 L1181.04,359.67 L1187.20,359.67 L1193.38,359.67 L1199.59,359.67 L1205.81,359.67 L1212.06,359.67 L1218.33,359.67 L1224.62,359.67 L1230.93,359.67 L1237.26,359.67 L1243.61,359.67 L1249.98,359.67 L1256.37,359.67 L1262.79,359.67 L1269.22,359.67 L1275.68,359.67 L1282.16,359.67 L1288.66,359.67 L1295.18,359.67 L1301.72,359.67 L1308.28,359.67 L1314.86,359.67 L1321.47,359.67 L1328.09,359.67 L1334.74,359.67 L1341.40,359.67 L1348.09,359.67 L1354.80,359.67 L1361.53,359.67 L1368.28,359.67 L1375.05,359.67 L1381.84,359.67 L1388.66,359.67 L1395.49,359.67 L1402.35,359.67 L1409.22,359.67 L1416.12,359.67 L1423.04,359.67 L1429.98,359.67 L1436.94,359.67 L1443.92,359.67 L1450.92,359.67 L1457.95,359.67 L1464.99,359.67 L1472.06,359.67 L1479.14,359.67 L1486.25,359.67 L1493.38,359.67 L1500.53,359.67 L1507.70,359.67 L1514.89,359.67 L1522.11,359.67 L1529.34,359.67 L1536.59,359.67 L1543.87,359.67 L1551.17,359.67 L1558.48,359.67 L1565.82,359.67 L1573.18,359.67 L1580.56,359.67 L1587.96,359.67 L1595.39,359.67 L1602.83,359.67 L1610.29,359.67 L1617.78,359.67 L1625.29,359.67 L1632.81,359.67 L1640.36,359.67 L1647.93,359.67 L1655.52,359.67 L1663.13,359.67 L1670.77,359.67 L1678.42,359.67 L1686.09,359.67 L1693.79,359.67 L1701.51,359.67 L1709.24,359.67 L1717.00,359.67 L1724.78,359.67 L1732.58,359.67 L1740.40,359.67 L1748.25,359.67 L1756.11,359.67 L1763.99,359.67 L1771.90,359.67 L1779.83,359.67 L1787.77,359.67 L1795.74,359.67 L1803.73,359.67 L1811.74,359.67 L1819.77,359.67 L1827.83,359.67 L1835.90,359.67 L1843.99,359.67 L1852.11,359.67 L1860.25,359.67 L1868.40,359.67 L1876.58,359.67 L1884.78,359.67 L1893.00,359.67 L1901.24,359.67 L1909.50,359.67 L1917.79,359.67 L1926.09,359.67 L1934.42,359.67 L1942.76,359.67 L1951.13,359.67 L1959.52,359.67" fill="none" stroke="#1000c8" stroke-width="6" stroke-linejoin="round" stroke-linecap="square"/>
<path d="M1962.52,332.73 L1954.10,332.84 L1945.70,332.95 L1937.33,333.07 L1928.97,333.18 L1920.64,333.30 L1912.33,333.41 L1904.03,333.53 L1895.76,333.65 L1887.51,333.77 L1879.28,333.89 L1871.08,334.01 L1862.89,334.13 L1854.72,334.25 L1846.58,334.38 L1838.46,334.50 L1830.35,334.62 L1822.27,334.75 L1814.21,334.88 L1806.17,335.00 L1798.16,335.13 L1790.16,335.26 L1782.18,335.39 L1774.23,335.53 L1766.30,335.66 L1758.38,335.79 L1750.49,335.93 L1742.62,336.06 L1734.77,336.20 L1726.94,336.34 L1719.14,336.48 L1711.35,336.62 L1703.58,336.76 L1695.84,336.90 L1688.12,337.04 L1680.42,337.19 L1672.73,337.33 L1665.07,337.48 L1657.44,337.63 L1649.82,337.77 L1642.22,337.92 L1634.65,338.08 L1627.09,338.23 L1619.56,338.38 L1612.05,338.54 L1604.56,338.69 L1597.09,338.85 L1589.64,339.01 L1582.21,339.17 L1574.80,339.33 L1567.42,339.49 L1560.05,339.66 L1552.71,339.82 L1545.38,339.99 L1538.08,340.16 L1530.80,340.32 L1523.54,340.49 L1516.30,340.67 L1509.09,340.84 L1501.89,341.01 L1494.72,341.19 L1487.56,341.37 L1480.43,341.55 L1473.32,341.73 L1466.23,341.91 L1459.16,342.09 L1452.11,342.28 L1445.08,342.47 L1438.07,342.65 L1431.09,342.84 L1424.12,343.04 L1417.18,343.23 L1410.26,343.42 L1403.36,343.62 L1396.48,343.82 L1389.62,344.02 L1382.78,344.22 L1375.96,344.42 L1369.17,344.63 L1362.39,344.83 L1355.64,345.04 L1348.91,345.25 L1342.20,345.47 L1335.50,345.68 L1328.84,345.90 L1322.19,346.11 L1315.56,346.33 L1308.95,346.56 L1302.37,346.78 L1295.80,347.01 L1289.26,347.23 L1282.74,347.46 L1276.24,347.69 L1269.76,347.93 L1263.30,348.16 L1256.86,348.40 L1250.45,348.64 L1244.05,348.89 L1237.68,349.13 L1231.32,349.38 L1224.99,349.63 L1218.68,349.88 L1212.39,350.13 L1206.12,350.39 L1199.87,350.65 L1193.65,350.91 L1187.44,351.17 L1181.26,351.44 L1175.09,351.71 L1168.95,351.98 L1162.83,352.25 L1156.73,352.53 L1150.65,352.81 L1144.59,353.09 L1138.55,353.37 L1132.54,353.66 L1126.54,353.95 L1120.57,354.24 L1114.61,354.54 L1108.68,354.83 L1102.77,355.14 L1096.88,355.44 L1091.01,355.75 L1085.17,356.06 L1079.34,356.37 L1073.53,356.69 L1067.75,357.00 L1061.99,357.33 L1056.24,357.65 L1050.52,357.98 L1044.82,358.31 L1039.14,358.65 L1033.49,358.99 L1027.85,359.33 L1022.23,359.68 L1016.64,360.03 L1011.07,360.38 L1005.51,360.73 L999.98,361.09 L994.47,361.46 L988.98,361.83 L983.51,362.20 L978.07,362.57 L972.64,362.95 L967.24,363.33 L961.85,363.72 L956.49,364.11 L951.15,364.51 L945.83,364.91 L940.53,365.31 L935.25,365.72 L929.99,366.13 L924.75,366.55 L919.54,366.97 L914.34,367.39 L909.17,367.82 L904.02,368.26 L898.89,368.70 L893.78,369.14 L888.69,369.59 L883.62,370.05 L878.57,370.51 L873.55,370.97 L868.54,371.44 L863.56,371.91 L858.60,372.39 L853.66,372.88 L848.74,373.37 L843.84,373.87 L838.96,374.37 L834.10,374.88 L829.26,375.39 L824.45,375.91 L819.66,376.43 L814.88,376.96 L810.13,377.50 L805.40,378.04 L800.69,378.59 L796.00,379.15 L791.33,379.71 L786.69,380.28 L782.06,380.86 L777.46,381.44 L772.88,382.03 L768.31,382.62 L763.77,383.23 L759.25,383.84 L754.75,384.46 L750.28,385.08 L745.82,385.71 L741.38,386.35 L736.97,387.00 L732.57,387.66 L728.20,388.32 L723.85,388.99 L719.52,389.67 L715.21,390.36 L710.92,391.06 L706.66,391.76 L702.41,392.48 L698.19,393.20 L693.98,393.93 L689.80,394.68 L685.64,395.43 L681.50,396.19 L677.38,396.96 L673.28,397.74 L669.20,398.53 L665.14,399.33 L661.11,400.14 L657.09,400.96 L653.10,401.79 L649.13,402.63 L645.18,403.48 L641.25,404.34 L637.34,405.22 L633.45,406.10 L629.58,407.00 L625.74,407.91 L621.91,408.83 L618.11,409.77 L614.33,410.71 L610.57,411.67 L606.83,412.65 L603.11,413.63 L599.41,414.63 L595.73,415.64 L592.08,416.66 L588.44,417.70 L584.83,418.76 L581.23,419.83 L577.66,420.91 L574.11,422.01 L570.58,423.12 L567.07,424.25 L563.59,425.39 L560.12,426.55 L556.67,427.72 L553.25,428.92 L549.85,430.12 L546.46,431.35 L543.10,432.59 L539.76,433.85 L536.44,435.13 L533.15,436.43 L529.87,437.74 L526.61,439.08 L523.38,440.43 L520.17,441.81 L516.97,443.20 L513.80,444.61 L510.65,446.04 L507.52,447.50 L504.42,448.97 L501.33,450.47 L498.26,451.99 L495.22,453.53 L492.19,455.09 L489.19,456.68 L486.21,458.29 L483.25,459.93 L480.31,461.58 L477.39,463.27 L474.49,464.98 L471.62,466.71 L468.76,468.47 L465.93,470.26 L463.11,472.07 L460.32,473.91 L457.55,475.78 L454.80,477.68 L452.07,479.60 L449.36,481.56 L446.68,483.54 L444.01,485.56 L441.37,487.60 L438.74,489.68 L436.14,491.79 L433.56,493.93 L431.00,496.10 L428.46,498.31 L425.94,500.55 L423.45,502.82 L420.97,505.13 L418.51,507.48 L416.08,509.86 L413.67,512.28 L411.28,514.73 L408.91,517.23 L406.56,519.76 L404.23,522.33 L401.92,524.94 L399.63,527.59 L397.37,530.28 L395.12,533.01 L392.90,535.79 L390.70,538.60 L388.52,541.46 L386.36,544.36 L384.22,547.31 L382.10,550.30 L380.00,553.34 L377.93,556.42 L375.87,559.55 L373.84,562.73 L371.83,565.96 L369.84,569.23 L367.87,572.55 L365.92,575.92 L363.99,579.34 L362.08,582.81 L360.20,586.33 L358.33,589.90 L356.49,593.52 L354.67,597.20 L352.86,600.93 L351.08,604.71 L349.32,608.54 L347.58,612.42 L345.87,616.36 L344.17,620.36 L342.50,624.40 L340.84,628.50 L339.21,632.66 L337.60,636.87 L336.01,641.13 L334.44,645.44 L332.89,649.81 L331.36,654.23 L329.85,658.71 L328.37,663.24 L326.90,667.82 L325.46,672.45 L324.04,677.13 L322.64,681.87 L321.26,686.65 L319.90,691.48 L318.56,696.36 L317.24,701.29 L315.94,706.26 L314.67,711.27 L313.42,716.33 L312.18,721.43 L310.97,726.57 L309.78,731.74 L308.61,736.95 L307.46,742.19 L306.34,747.46 L305.23,752.76 L304.14,758.09 L303.08,763.43 L302.04,768.80 L301.02,774.18 L300.01,779.58 L299.03,784.98 L298.08,790.39 L297.14,795.81 L296.22,801.21 L295.33,806.62 L294.45,812.01 L293.60,817.38 L292.77,822.74 L291.95,828.07 L291.16,833.36 L290.39,838.62 L289.65,843.84 L288.92,849.02 L288.21,854.14 L287.53,859.20 L286.87,864.19 L286.22,869.11 L285.60,873.96 L285.00,878.72 L284.42,883.39 L283.86,887.97 L283.33,892.44 L282.81,896.80 L282.31,901.05 L281.84,905.17 L281.39,909.17 L280.95,913.02 L280.54,916.74 L280.15,920.31 L279.78,923.72 L279.44,926.98 L279.11,930.07 L278.81,932.98 L278.52,935.72 L278.26,938.28 L278.01,940.66 L277.79,942.84 L277.59,944.83 L277.41,946.62 L277.26,948.21 L277.12,949.59 L277.00,950.76 L276.91,951.72 L276.83,952.48 L276.78,953.01 L276.75,953.34 L276.74,953.45" fill="none" stroke="#100090" stroke-width="6" stroke-dasharray="32 30" stroke-dashoffset="57.5"/>
<path d="M279.74,918.45 L279.75,918.30 L279.78,917.86 L279.83,917.11 L279.91,916.07 L280.00,914.74 L280.12,913.11 L280.25,911.19 L280.41,908.98 L280.59,906.49 L280.79,903.71 L281.01,900.65 L281.25,897.32 L281.51,893.71 L281.80,889.84 L282.10,885.70 L282.43,881.30 L282.77,876.65 L283.14,871.76 L283.53,866.62 L283.94,861.25 L284.37,855.64 L284.82,849.82 L285.29,843.78 L285.79,837.53 L286.30,831.07 L286.84,824.42 L287.39,817.59 L287.97,810.57 L288.57,803.39 L289.19,796.03 L289.83,788.53 L290.49,780.87 L291.17,773.07 L291.88,765.14 L292.60,757.09 L293.35,748.93 L294.11,740.65 L294.90,732.28 L295.71,723.81 L296.54,715.27 L297.39,706.65 L298.26,697.97 L299.15,689.22 L300.07,680.43 L301.00,671.60 L301.96,662.73 L302.93,653.84 L303.93,644.93 L304.95,636.01 L305.99,627.09 L307.05,618.17 L308.13,609.26 L309.23,600.38 L310.35,591.51 L311.50,582.68 L312.66,573.89 L313.85,565.15 L315.06,556.45 L316.29,547.81 L317.54,539.23 L318.81,530.72 L320.10,522.29 L321.41,513.93 L322.74,505.65 L324.10,497.46 L325.47,489.37 L326.87,481.37 L328.29,473.47 L329.72,465.67 L331.18,457.98 L332.66,450.40 L334.16,442.93 L335.69,435.58 L337.23,428.35 L338.79,421.24 L340.38,414.25 L341.99,407.38 L343.61,400.64 L345.26,394.03 L346.93,387.55 L348.62,381.20 L350.33,374.98 L352.07,368.89 L353.82,362.94 L355.59,357.11 L357.39,351.43 L359.20,345.87 L361.04,340.44 L362.90,335.15 L364.78,329.99 L366.68,324.96 L368.60,320.07 L370.54,315.30 L372.51,310.66 L374.49,306.15 L376.50,301.76 L378.52,297.50 L380.57,293.37 L382.64,289.35 L384.73,285.46 L386.84,281.69 L388.97,278.03 L391.12,274.49 L393.29,271.06 L395.49,267.74 L397.70,264.53 L399.94,261.43 L402.20,258.43 L404.47,255.54 L406.77,252.75 L409.09,250.06 L411.43,247.46 L413.80,244.96 L416.18,242.55 L418.58,240.23 L421.01,238.00 L423.46,235.85 L425.92,233.79 L428.41,231.80 L430.92,229.90 L433.45,228.07 L436.00,226.32 L438.57,224.63 L441.17,223.02 L443.78,221.47 L446.42,219.99 L449.07,218.58 L451.75,217.22 L454.45,215.93 L457.17,214.69 L459.91,213.50 L462.67,212.37 L465.45,211.29 L468.25,210.27 L471.08,209.28 L473.92,208.35 L476.79,207.46 L479.68,206.61 L482.58,205.80 L485.51,205.03 L488.46,204.30 L491.43,203.60 L494.43,202.94 L497.44,202.32 L500.47,201.72 L503.53,201.16 L506.60,200.62 L509.70,200.11 L512.82,199.63 L515.96,199.18 L519.12,198.75 L522.30,198.34 L525.50,197.95 L528.73,197.59 L531.97,197.24 L535.23,196.92 L538.52,196.61 L541.83,196.32 L545.16,196.05 L548.50,195.79 L551.87,195.54 L555.27,195.32 L558.68,195.10 L562.11,194.90 L565.57,194.71 L569.04,194.53 L572.54,194.36 L576.05,194.20 L579.59,194.05 L583.15,193.91 L586.73,193.78 L590.33,193.66 L593.95,193.54 L597.60,193.43 L601.26,193.33 L604.95,193.24 L608.65,193.15 L612.38,193.07 L616.13,192.99 L619.90,192.92 L623.69,192.85 L627.50,192.79 L631.33,192.73 L635.18,192.67 L639.06,192.62 L642.95,192.57 L646.87,192.53 L650.80,192.49 L654.76,192.45 L658.74,192.41 L662.74,192.38 L666.76,192.35 L670.80,192.32 L674.87,192.29 L678.95,192.27 L683.06,192.25 L687.18,192.23 L691.33,192.21 L695.50,192.19 L699.68,192.17 L703.89,192.15 L708.13,192.14 L712.38,192.13 L716.65,192.11 L720.94,192.10 L725.26,192.09 L729.60,192.08 L733.95,192.07 L738.33,192.06 L742.73,192.06 L747.15,192.05 L751.59,192.04 L756.05,192.04 L760.54,192.03 L765.04,192.03 L769.56,192.02 L774.11,192.02 L778.68,192.01 L783.26,192.01 L787.87,192.01 L792.50,192.00 L797.15,192.00 L801.83,192.00 L806.52,192.00 L811.23,191.99 L815.97,191.99 L820.72,191.99 L825.50,191.99 L830.30,191.99 L835.12,191.99 L839.96,191.98 L844.82,191.98 L849.70,191.98 L854.60,191.98 L859.53,191.98 L864.47,191.98 L869.44,191.98 L874.42,191.98 L879.43,191.98 L884.46,191.98 L889.51,191.98 L894.58,191.98 L899.67,191.98 L904.79,191.97 L909.92,191.97 L915.07,191.97 L920.25,191.97 L925.45,191.97 L930.67,191.97 L935.90,191.97 L941.16,191.97 L946.44,191.97 L951.75,191.97 L957.07,191.97 L962.41,191.97 L967.78,191.97 L973.16,191.97 L978.57,191.97 L984.00,191.97 L989.45,191.97 L994.92,191.97 L1000.41,191.97 L1005.92,191.97 L1011.45,191.97 L1017.01,191.97 L1022.58,191.97 L1028.18,191.97 L1033.79,191.97 L1039.43,191.97 L1045.09,191.97 L1050.77,191.97 L1056.47,191.97 L1062.19,191.97 L1067.93,191.97 L1073.70,191.97 L1079.48,191.97 L1085.29,191.97 L1091.12,191.97 L1096.96,191.97 L1102.83,191.97 L1108.72,191.97 L1114.63,191.97 L1120.56,191.97 L1126.52,191.97 L1132.49,191.97 L1138.49,191.97 L1144.50,191.97 L1150.54,191.97 L1156.60,191.97 L1162.67,191.97 L1168.77,191.97 L1174.89,191.97 L1181.04,191.97 L1187.20,191.97 L1193.38,191.97 L1199.59,191.97 L1205.81,191.97 L1212.06,191.97 L1218.33,191.97 L1224.62,191.97 L1230.93,191.97 L1237.26,191.97 L1243.61,191.97 L1249.98,191.97 L1256.37,191.97 L1262.79,191.97 L1269.22,191.97 L1275.68,191.97 L1282.16,191.97 L1288.66,191.97 L1295.18,191.97 L1301.72,191.97 L1308.28,191.97 L1314.86,191.97 L1321.47,191.97 L1328.09,191.97 L1334.74,191.97 L1341.40,191.97 L1348.09,191.97 L1354.80,191.97 L1361.53,191.97 L1368.28,191.97 L1375.05,191.97 L1381.84,191.97 L1388.66,191.97 L1395.49,191.97 L1402.35,191.97 L1409.22,191.97 L1416.12,191.97 L1423.04,191.97 L1429.98,191.97 L1436.94,191.97 L1443.92,191.97 L1450.92,191.97 L1457.95,191.97 L1464.99,191.97 L1472.06,191.97 L1479.14,191.97 L1486.25,191.97 L1493.38,191.97 L1500.53,191.97 L1507.70,191.97 L1514.89,191.97 L1522.11,191.97 L1529.34,191.97 L1536.59,191.97 L1543.87,191.97 L1551.17,191.97 L1558.48,191.97 L1565.82,191.97 L1573.18,191.97 L1580.56,191.97 L1587.96,191.97 L1595.39,191.97 L1602.83,191.97 L1610.29,191.97 L1617.78,191.97 L1625.29,191.97 L1632.81,191.97 L1640.36,191.97 L1647.93,191.97 L1655.52,191.97 L1663.13,191.97 L1670.77,191.97 L1678.42,191.97 L1686.09,191.97 L1693.79,191.97 L1701.51,191.97 L1709.24,191.97 L1717.00,191.97 L1724.78,191.97 L1732.58,191.97 L1740.40,191.97 L1748.25,191.97 L1756.11,191.97 L1763.99,191.97 L1771.90,191.97 L1779.83,191.97 L1787.77,191.97 L1795.74,191.97 L1803.73,191.97 L1811.74,191.97 L1819.77,191.97 L1827.83,191.97 L1835.90,191.97 L1843.99,191.97 L1852.11,191.97 L1860.25,191.97 L1868.40,191.97 L1876.58,191.97 L1884.78,191.97 L1893.00,191.97 L1901.24,191.97 L1909.50,191.97 L1917.79,191.97 L1926.09,191.97 L1934.42,191.97 L1942.76,191.97 L1951.13,191.97 L1959.52,191.97" fill="none" stroke="#f0000a" stroke-width="6" stroke-linejoin="round" stroke-linecap="square"/>
<path d="M1962.52,117.92 L1954.10,118.07 L1945.70,118.21 L1937.33,118.36 L1928.97,118.50 L1920.64,118.65 L1912.33,118.80 L1904.03,118.95 L1895.76,119.10 L1887.51,119.25 L1879.28,119.40 L1871.08,119.55 L1862.89,119.71 L1854.72,119.87 L1846.58,120.02 L1838.46,120.18 L1830.35,120.34 L1822.27,120.50 L1814.21,120.66 L1806.17,120.83 L1798.16,120.99 L1790.16,121.16 L1782.18,121.32 L1774.23,121.49 L1766.30,121.66 L1758.38,121.83 L1750.49,122.00 L1742.62,122.18 L1734.77,122.35 L1726.94,122.53 L1719.14,122.70 L1711.35,122.88 L1703.58,123.06 L1695.84,123.24 L1688.12,123.43 L1680.42,123.61 L1672.73,123.80 L1665.07,123.98 L1657.44,124.17 L1649.82,124.36 L1642.22,124.55 L1634.65,124.75 L1627.09,124.94 L1619.56,125.14 L1612.05,125.33 L1604.56,125.53 L1597.09,125.73 L1589.64,125.94 L1582.21,126.14 L1574.80,126.34 L1567.42,126.55 L1560.05,126.76 L1552.71,126.97 L1545.38,127.18 L1538.08,127.40 L1530.80,127.61 L1523.54,127.83 L1516.30,128.05 L1509.09,128.27 L1501.89,128.49 L1494.72,128.72 L1487.56,128.94 L1480.43,129.17 L1473.32,129.40 L1466.23,129.64 L1459.16,129.87 L1452.11,130.11 L1445.08,130.34 L1438.07,130.58 L1431.09,130.83 L1424.12,131.07 L1417.18,131.32 L1410.26,131.56 L1403.36,131.81 L1396.48,132.07 L1389.62,132.32 L1382.78,132.58 L1375.96,132.84 L1369.17,133.10 L1362.39,133.36 L1355.64,133.63 L1348.91,133.90 L1342.20,134.17 L1335.50,134.44 L1328.84,134.72 L1322.19,134.99 L1315.56,135.27 L1308.95,135.56 L1302.37,135.84 L1295.80,136.13 L1289.26,136.42 L1282.74,136.71 L1276.24,137.01 L1269.76,137.31 L1263.30,137.61 L1256.86,137.91 L1250.45,138.22 L1244.05,138.52 L1237.68,138.84 L1231.32,139.15 L1224.99,139.47 L1218.68,139.79 L1212.39,140.11 L1206.12,140.44 L1199.87,140.77 L1193.65,141.10 L1187.44,141.44 L1181.26,141.77 L1175.09,142.12 L1168.95,142.46 L1162.83,142.81 L1156.73,143.16 L1150.65,143.52 L1144.59,143.87 L1138.55,144.24 L1132.54,144.60 L1126.54,144.97 L1120.57,145.34 L1114.61,145.72 L1108.68,146.10 L1102.77,146.48 L1096.88,146.87 L1091.01,147.26 L1085.17,147.65 L1079.34,148.05 L1073.53,148.45 L1067.75,148.86 L1061.99,149.27 L1056.24,149.68 L1050.52,150.10 L1044.82,150.52 L1039.14,150.95 L1033.49,151.38 L1027.85,151.82 L1022.23,152.26 L1016.64,152.70 L1011.07,153.15 L1005.51,153.60 L999.98,154.06 L994.47,154.52 L988.98,154.99 L983.51,155.46 L978.07,155.94 L972.64,156.42 L967.24,156.91 L961.85,157.40 L956.49,157.90 L951.15,158.40 L945.83,158.90 L940.53,159.42 L935.25,159.94 L929.99,160.46 L924.75,160.99 L919.54,161.52 L914.34,162.06 L909.17,162.61 L904.02,163.16 L898.89,163.72 L893.78,164.29 L888.69,164.86 L883.62,165.43 L878.57,166.02 L873.55,166.61 L868.54,167.20 L863.56,167.80 L858.60,168.41 L853.66,169.03 L848.74,169.65 L843.84,170.28 L838.96,170.92 L834.10,171.56 L829.26,172.21 L824.45,172.87 L819.66,173.54 L814.88,174.21 L810.13,174.89 L805.40,175.58 L800.69,176.28 L796.00,176.98 L791.33,177.70 L786.69,178.42 L782.06,179.15 L777.46,179.88 L772.88,180.63 L768.31,181.39 L763.77,182.15 L759.25,182.93 L754.75,183.71 L750.28,184.50 L745.82,185.30 L741.38,186.11 L736.97,186.93 L732.57,187.76 L728.20,188.60 L723.85,189.46 L719.52,190.32 L715.21,191.19 L710.92,192.07 L706.66,192.96 L702.41,193.87 L698.19,194.78 L693.98,195.71 L689.80,196.65 L685.64,197.60 L681.50,198.56 L677.38,199.53 L673.28,200.52 L669.20,201.52 L665.14,202.53 L661.11,203.55 L657.09,204.59 L653.10,205.64 L649.13,206.70 L645.18,207.78 L641.25,208.87 L637.34,209.97 L633.45,211.09 L629.58,212.23 L625.74,213.38 L621.91,214.54 L618.11,215.72 L614.33,216.91 L610.57,218.12 L606.83,219.35 L603.11,220.59 L599.41,221.85 L595.73,223.13 L592.08,224.42 L588.44,225.73 L584.83,227.06 L581.23,228.40 L577.66,229.77 L574.11,231.15 L570.58,232.55 L567.07,233.97 L563.59,235.41 L560.12,236.87 L556.67,238.35 L553.25,239.85 L549.85,241.37 L546.46,242.92 L543.10,244.48 L539.76,246.07 L536.44,247.67 L533.15,249.30 L529.87,250.96 L526.61,252.63 L523.38,254.34 L520.17,256.06 L516.97,257.81 L513.80,259.58 L510.65,261.38 L507.52,263.21 L504.42,265.06 L501.33,266.94 L498.26,268.84 L495.22,270.78 L492.19,272.74 L489.19,274.73 L486.21,276.75 L483.25,278.79 L480.31,280.87 L477.39,282.98 L474.49,285.12 L471.62,287.29 L468.76,289.49 L465.93,291.73 L463.11,294.00 L460.32,296.30 L457.55,298.63 L454.80,301.01 L452.07,303.41 L449.36,305.85 L446.68,308.33 L444.01,310.85 L441.37,313.40 L438.74,315.99 L436.14,318.62 L433.56,321.29 L431.00,324.00 L428.46,326.75 L425.94,329.54 L423.45,332.37 L420.97,335.25 L418.51,338.17 L416.08,341.13 L413.67,344.14 L411.28,347.19 L408.91,350.29 L406.56,353.43 L404.23,356.62 L401.92,359.86 L399.63,363.15 L397.37,366.49 L395.12,369.88 L392.90,373.31 L390.70,376.80 L388.52,380.34 L386.36,383.94 L384.22,387.58 L382.10,391.28 L380.00,395.04 L377.93,398.85 L375.87,402.71 L373.84,406.64 L371.83,410.61 L369.84,414.65 L367.87,418.74 L365.92,422.90 L363.99,427.11 L362.08,431.38 L360.20,435.71 L358.33,440.10 L356.49,444.56 L354.67,449.07 L352.86,453.65 L351.08,458.28 L349.32,462.98 L347.58,467.75 L345.87,472.57 L344.17,477.46 L342.50,482.41 L340.84,487.42 L339.21,492.50 L337.60,497.64 L336.01,502.84 L334.44,508.10 L332.89,513.43 L331.36,518.82 L329.85,524.27 L328.37,529.78 L326.90,535.35 L325.46,540.98 L324.04,546.66 L322.64,552.41 L321.26,558.21 L319.90,564.06 L318.56,569.97 L317.24,575.93 L315.94,581.94 L314.67,588.00 L313.42,594.11 L312.18,600.26 L310.97,606.45 L309.78,612.68 L308.61,618.95 L307.46,625.26 L306.34,631.60 L305.23,637.96 L304.14,644.35 L303.08,650.77 L302.04,657.20 L301.02,663.64 L300.01,670.10 L299.03,676.56 L298.08,683.02 L297.14,689.48 L296.22,695.94 L295.33,702.37 L294.45,708.79 L293.60,715.19 L292.77,721.56 L291.95,727.89 L291.16,734.18 L290.39,740.42 L289.65,746.61 L288.92,752.74 L288.21,758.80 L287.53,764.78 L286.87,770.69 L286.22,776.50 L285.60,782.22 L285.00,787.84 L284.42,793.35 L283.86,798.73 L283.33,804.00 L282.81,809.13 L282.31,814.12 L281.84,818.97 L281.39,823.66 L280.95,828.19 L280.54,832.55 L280.15,836.73 L279.78,840.73 L279.44,844.55 L279.11,848.16 L278.81,851.58 L278.52,854.78 L278.26,857.78 L278.01,860.55 L277.79,863.10 L277.59,865.42 L277.41,867.51 L277.26,869.37 L277.12,870.98 L277.00,872.35 L276.91,873.48 L276.83,874.35 L276.78,874.98 L276.75,875.36 L276.74,875.48" fill="none" stroke="#c8001e" stroke-width="6" stroke-dasharray="32 30" stroke-dashoffset="0"/>
<g stroke="#000" fill="none">
<line x1="244.0" y1="66.5" x2="244.0" y2="1655.5" stroke-width="7"/>
<line x1="240.5" y1="1652.0" x2="2214.0" y2="1652.0" stroke-width="7"/>
<line x1="212.0" y1="70.0" x2="2214.0" y2="70.0" stroke-width="7"/>
<line x1="2230.6" y1="66.5" x2="2230.6" y2="1655.5" stroke-width="3.8"/>
<line x1="2226.85" y1="66.5" x2="2226.85" y2="1655.5" stroke-width="3.7" stroke="#a4a4a4"/>
<line x1="212" y1="1652.00" x2="244.0" y2="1652.00" stroke-width="7"/>
<line x1="212" y1="1476.22" x2="244.0" y2="1476.22" stroke-width="6"/>
<line x1="212" y1="1300.44" x2="244.0" y2="1300.44" stroke-width="6"/>
<line x1="212" y1="1124.66" x2="244.0" y2="1124.66" stroke-width="6"/>
<line x1="212" y1="948.88" x2="244.0" y2="948.88" stroke-width="6"/>
<line x1="212" y1="773.10" x2="244.0" y2="773.10" stroke-width="6"/>
<line x1="212" y1="597.32" x2="244.0" y2="597.32" stroke-width="6"/>
<line x1="212" y1="421.54" x2="244.0" y2="421.54" stroke-width="6"/>
<line x1="212" y1="245.76" x2="244.0" y2="245.76" stroke-width="6"/>
<line x1="230" y1="1564.11" x2="244.0" y2="1564.11" stroke-width="6"/>
<line x1="230" y1="1388.33" x2="244.0" y2="1388.33" stroke-width="6"/>
<line x1="230" y1="1212.55" x2="244.0" y2="1212.55" stroke-width="6"/>
<line x1="230" y1="1036.77" x2="244.0" y2="1036.77" stroke-width="6"/>
<line x1="230" y1="860.99" x2="244.0" y2="860.99" stroke-width="6"/>
<line x1="230" y1="685.21" x2="244.0" y2="685.21" stroke-width="6"/>
<line x1="230" y1="509.43" x2="244.0" y2="509.43" stroke-width="6"/>
<line x1="230" y1="333.65" x2="244.0" y2="333.65" stroke-width="6"/>
<line x1="230" y1="157.87" x2="244.0" y2="157.87" stroke-width="6"/>
<line x1="244.00" y1="1652.0" x2="244.00" y2="1684" stroke-width="7"/>
<line x1="601.40" y1="1652.0" x2="601.40" y2="1684" stroke-width="6"/>
<line x1="958.80" y1="1652.0" x2="958.80" y2="1684" stroke-width="6"/>
<line x1="1316.20" y1="1652.0" x2="1316.20" y2="1684" stroke-width="6"/>
<line x1="1673.60" y1="1652.0" x2="1673.60" y2="1684" stroke-width="6"/>
<line x1="2031.00" y1="1652.0" x2="2031.00" y2="1684" stroke-width="6"/>
<line x1="422.70" y1="1652.0" x2="422.70" y2="1666" stroke-width="6"/>
<line x1="780.10" y1="1652.0" x2="780.10" y2="1666" stroke-width="6"/>
<line x1="1137.50" y1="1652.0" x2="1137.50" y2="1666" stroke-width="6"/>
<line x1="1494.90" y1="1652.0" x2="1494.90" y2="1666" stroke-width="6"/>
<line x1="1852.30" y1="1652.0" x2="1852.30" y2="1666" stroke-width="6"/>
<line x1="2209.70" y1="1652.0" x2="2209.70" y2="1666" stroke-width="6"/>
</g>
<text x="191.0" y="1670.50" font-size="68" text-anchor="end">0</text>
<text x="191.0" y="1494.72" font-size="68" text-anchor="end">5</text>
<text x="191.0" y="1318.94" font-size="68" text-anchor="end">10</text>
<text x="191.0" y="1143.16" font-size="68" text-anchor="end">15</text>
<text x="191.0" y="967.38" font-size="68" text-anchor="end">20</text>
<text x="191.0" y="791.60" font-size="68" text-anchor="end">25</text>
<text x="191.0" y="615.82" font-size="68" text-anchor="end">30</text>
<text x="191.0" y="440.04" font-size="68" text-anchor="end">35</text>
<text x="191.0" y="264.26" font-size="68" text-anchor="end">40</text>
<text x="191.0" y="88.48" font-size="68" text-anchor="end">45</text>
<text x="244.00" y="1755.5" font-size="68" text-anchor="middle">0</text>
<text x="601.40" y="1755.5" font-size="68" text-anchor="middle">5</text>
<text x="958.80" y="1755.5" font-size="68" text-anchor="middle">10</text>
<text x="1316.20" y="1755.5" font-size="68" text-anchor="middle">15</text>
<text x="1673.60" y="1755.5" font-size="68" text-anchor="middle">20</text>
<text x="2031.00" y="1755.5" font-size="68" text-anchor="middle">25</text>
<text x="1229.0" y="1884.5" font-size="81.5" text-anchor="middle">t (h)</text>
<text transform="translate(88.0,861.0) rotate(-90)" font-size="81.5" text-anchor="middle">Qe (mg/g)</text>
<rect x="659.75" y="503.75" width="34.50" height="34.50" fill="#505050"/>
<text x="781.0" y="546.0" font-size="74">CK350</text>
<circle cx="677.00" cy="612.00" r="18.00" fill="#ff3c3c"/>
<text x="781.0" y="636.0" font-size="74">A350</text>
<path d="M654.50,689.50 L699.50,689.50 L677.00,728.50 Z" fill="#00aa6e"/>
<text x="781.0" y="729.0" font-size="74">B350</text>
<path d="M677.00,770.00 L699.50,809.00 L654.50,809.00 Z" fill="#0066dc"/>
<text x="781.0" y="819.0" font-size="74">C350</text>
<line x1="593.5" y1="1072.0" x2="763" y2="1072.0" stroke="#000" stroke-width="7"/>
<line x1="593.5" y1="1162.0" x2="763" y2="1162.0" stroke="#000" stroke-width="7" stroke-dasharray="29 32.3"/>
<text x="781.0" y="1096.0" font-size="74">Pseudo-first-order adsorption dynamic model</text>
<text x="781.0" y="1188.0" font-size="74.259">Pseudo-second-order adsorption dynamic model</text>
</svg></body></html>
